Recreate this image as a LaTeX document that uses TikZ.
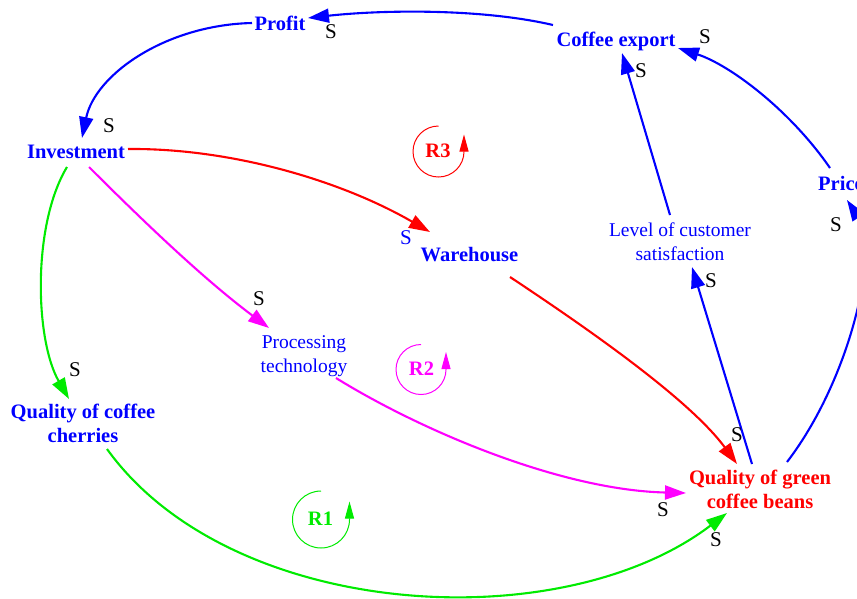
\documentclass[tikz,border=0pt]{standalone}
\usepackage{fontspec}
\setmainfont{Liberation Serif}
\usetikzlibrary{arrows.meta}

\definecolor{cldblue}{RGB}{0,0,255}
\definecolor{cldred}{RGB}{255,0,0}
\definecolor{cldgreen}{RGB}{0,235,0}
\definecolor{cldmag}{RGB}{255,0,255}

% two centred lines; the node's baseline is that of the lower line
\newcommand{\twolines}[2]{\begin{tabular}[b]{@{}c@{}}#1\\#2\end{tabular}}

\tikzset{
  var/.style={inner sep=0pt, font=\fontsize{20.5}{24}\selectfont\bfseries, text=cldblue, anchor=base},
  varlight/.style={inner sep=0pt, font=\fontsize{19.5}{24}\selectfont, text=cldblue, anchor=base},
  pol/.style={inner sep=0pt, font=\fontsize{21}{24}\selectfont, text=black},
  link/.style={line width=2.1pt, -{Triangle[length=21pt,width=14pt]}},
  loopsym/.style={line width=1pt, -{Triangle[length=17pt,width=9pt]}}
}

\begin{document}
\begin{tikzpicture}[x=1pt,y=-1pt]
\fill[white] (0,0) rectangle (857,598);
\useasboundingbox (0,0) rectangle (857,598);

% variables
\node[var] (pr) at (280,30) {Profit};
\node[var] (ce) at (616,46) {Coffee export};
\node[var] (inv) at (76,158) {Investment};
\node[var] (wh) at (469.5,261) {Warehouse};
\node[varlight] (lcs) at (680,260) {\twolines{Level of customer}{satisfaction}};
\node[var, anchor=base west] (pri) at (818,190) {Price};
\node[varlight] (pt) at (304,372) {\twolines{Processing}{technology}};
\node[var] (qcc) at (83,442) {\twolines{Quality of coffee}{cherries}};
\node[var, text=cldred] (qgb) at (760,508) {\twolines{Quality of green}{coffee beans}};

% loop markers
\node[var, text=cldred] (r3) at (438,157) {R3};
\node[var, text=cldmag] (r2) at (421.5,375) {R2};
\node[var, text=cldgreen] (r1) at (320.5,525) {R1};
\draw[loopsym, cldred] ([shift={(0.5,-31)}]r3.base) arc[start angle=270, end angle=0, radius=25.5] -- ++(0,-17);
\draw[loopsym, cldmag] ([shift={(-0.5,-30.5)}]r2.base) arc[start angle=270, end angle=0, radius=25] -- ++(0,-17.5);
\draw[loopsym, cldgreen] ([shift={(0.5,-34)}]r1.base) arc[start angle=270, end angle=0, radius=28.5] -- ++(0,-18);

% causal links
\draw[link, cldblue] ([shift={(-63,-21)}]ce.base) .. controls (480,8) and (380,10) .. ([shift={(28,-12)}]pr.base);
\draw[link, cldblue] ([shift={(-28,-7)}]pr.base) .. controls (165,25) and (95,75) .. ([shift={(6,-20)}]inv.base);
\draw[link, cldred] ([shift={(52,-9)}]inv.base) .. controls (230,148) and (340,180) .. ([shift={(-39.5,-29)}]wh.base);
\draw[link, cldmag] ([shift={(13,9)}]inv.base) .. controls (147,225) and (205,280) .. ([shift={(-35,-44)}]pt.base);
\draw[link, cldgreen] ([shift={(-9,9)}]inv.base) .. controls (32,225) and (35,340) .. ([shift={(-14,-43)}]qcc.base);
\draw[link, cldgreen] ([shift={(24,7)}]qcc.base) .. controls (230,620) and (560,640) .. ([shift={(-33,5)}]qgb.base);
\draw[link, cldmag] ([shift={(32,6)}]pt.base) .. controls (420,430) and (560,490) .. ([shift={(-74,-15)}]qgb.base);
\draw[link, cldred] ([shift={(40.5,16)}]wh.base) .. controls (590,330) and (690,400) .. ([shift={(-23,-44)}]qgb.base);
\draw[link, cldblue] ([shift={(-8,-44)}]qgb.base) -- ([shift={(12,7)}]lcs.base);
\draw[link, cldblue] ([shift={(-10,-45)}]lcs.base) -- ([shift={(6,7)}]ce.base);
\draw[link, cldblue] ([shift={(12,-22)}]pri.base west) .. controls (790,110) and (730,65) .. ([shift={(62,2)}]ce.base);
\draw[link, cldblue] ([shift={(27,-46)}]qgb.base) .. controls (850,380) and (880,250) .. ([shift={(29,10)}]pri.base west);

% link polarities
\node[pol] (s1) at (331,32) {S};
\node[pol] (s2) at (109,126) {S};
\node[pol, text=cldblue] (s3) at (406,238) {S};
\node[pol] (s4) at (259,299) {S};
\node[pol] (s5) at (75,370) {S};
\node[pol] (s6) at (716,540) {S};
\node[pol] (s7) at (663,510) {S};
\node[pol] (s8) at (737,435) {S};
\node[pol] (s9) at (711,281) {S};
\node[pol] (s10) at (641,71) {S};
\node[pol] (s11) at (705,37) {S};
\node[pol] (s12) at (836,225) {S};
\end{tikzpicture}
\end{document}
